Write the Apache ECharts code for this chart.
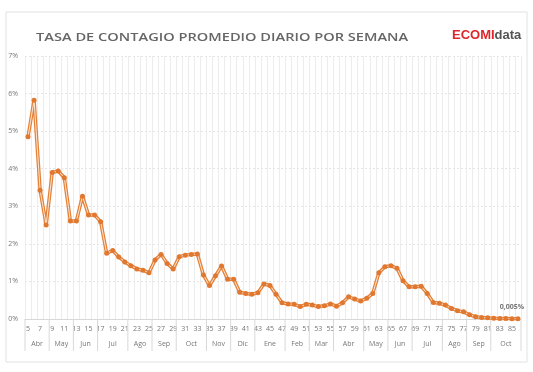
<!DOCTYPE html>
<html><head><meta charset="utf-8">
<script src="https://cdn.jsdelivr.net/npm/echarts@6/dist/echarts.min.js"></script>
<style>html,body{margin:0;padding:0;background:#fff}#c{width:533px;height:372px}</style>
</head><body><div id="c"></div>
<script>
// Semanas (categorías)
var weeks = ['5','6','7','8','9','10','11','12','13','14','15','16','17','18','19','20','21','22','23','24','25','26','27','28','29','30','31','32','33','34','35','36','37','38','39','40','41','42','43','44','45','46','47','48','49','50','51','52','53','54','55','56','57','58','59','60','61','62','63','64','65','66','67','68','69','70','71','72','73','74','75','76','77','78','79','80','81','82','83','84','85','86'];
// Tasa de contagio promedio diario (%)
var rates = [4.85,5.82,3.43,2.50,3.90,3.94,3.76,2.61,2.61,3.27,2.77,2.77,2.59,1.75,1.82,1.65,1.52,1.42,1.33,1.30,1.23,1.57,1.72,1.48,1.33,1.66,1.70,1.72,1.73,1.17,0.89,1.15,1.41,1.06,1.06,0.71,0.68,0.66,0.70,0.93,0.89,0.66,0.43,0.40,0.39,0.33,0.39,0.37,0.33,0.35,0.40,0.34,0.43,0.59,0.53,0.48,0.55,0.68,1.23,1.39,1.42,1.35,1.02,0.86,0.86,0.87,0.68,0.44,0.42,0.37,0.28,0.22,0.19,0.11,0.06,0.04,0.03,0.02,0.01,0.01,0.008,0.005];
// Meses y número de semanas de cada uno
var months = ['Abr','May','Jun','Jul','Ago','Sep','Oct','Nov','Dic','Ene','Feb','Mar','Abr','May','Jun','Jul','Ago','Sep','Oct'];
var monthWeeks = [4,4,4,5,4,4,5,4,4,5,4,4,5,4,4,5,4,4,5];
var yTicks = [0,1,2,3,4,5,6,7];

var bounds = [0], mids = [];
var acc = 0;
for (var i = 0; i < monthWeeks.length; i++) {
  mids.push([acc + monthWeeks[i] / 2, 0, months[i]]);
  acc += monthWeeks[i];
  bounds.push(acc);
}
var boundData = bounds.map(function (b) { return [b, 0]; });
var lastIdx = rates.length - 1;

var chart = echarts.init(document.getElementById('c'), null, {renderer: 'canvas'});
var font = 'Open Sans, Liberation Sans, sans-serif';
var orange = '#E5823A';
chart.setOption({
  animation: false,
  backgroundColor: '#fff',
  graphic: [
    {type: 'rect', shape: {x: 6, y: 12, width: 521, height: 350}, style: {fill: 'none', stroke: '#e2e2e2', lineWidth: 1}, z: -1},
    {type: 'text', x: 36, y: 32, scaleX: 1.27, style: {text: 'TASA DE CONTAGIO PROMEDIO DIARIO POR SEMANA', fill: '#666', font: '600 11.5px "Open Sans", sans-serif'}},
    {type: 'text', left: 452, top: 29, style: {rich: {
      a: {fill: '#e0262a', fontSize: 13, fontWeight: 'bold', fontFamily: 'Liberation Sans'},
      b: {fill: '#555', fontSize: 13, fontWeight: 'bold', fontFamily: 'Liberation Sans'}
    }, text: '{a|ECOM}{a|I}{b|data}'}}
  ],
  grid: {left: 25, right: 12, top: 56, bottom: 53, containLabel: false},
  xAxis: [{
    type: 'category', data: weeks, boundaryGap: true,
    axisLine: {show: true, lineStyle: {color: '#d8d8d8'}},
    axisTick: {show: false},
    axisLabel: {interval: 1, color: '#777', fontSize: 7, fontFamily: font, margin: 6},
    splitLine: {show: true, interval: 0, lineStyle: {color: '#ececec', width: 1}}
  }, {
    type: 'value', min: 0, max: weeks.length, show: false
  }],
  yAxis: {
    type: 'value', min: yTicks[0], max: yTicks[yTicks.length - 1], interval: 1,
    axisLine: {show: false}, axisTick: {show: false},
    axisLabel: {formatter: '{value}%', color: '#777', fontSize: 7, fontFamily: font, margin: 7},
    splitLine: {lineStyle: {color: '#e4e4e4', type: [2, 2]}}
  },
  series: [
    {type: 'line', data: rates, symbol: 'none', lineStyle: {color: orange, width: 3.5}, z: 2},
    {type: 'line', data: rates, symbol: 'none', lineStyle: {color: '#fbe6d4', width: 1}, z: 3},
    {type: 'line', data: rates.map(function (v, i) {
        return i === lastIdx ? {value: v, label: {show: true}} : v;
      }), symbol: 'circle', symbolSize: 5, showAllSymbol: true,
      itemStyle: {color: '#E07830'}, lineStyle: {opacity: 0}, z: 4,
      label: {show: false, position: 'top', offset: [-6, -1], color: '#777', fontSize: 7, fontWeight: 'bold', fontFamily: font,
        formatter: function (p) { return String(p.value).replace('.', ',') + '%'; }}
    },
    {type: 'custom', xAxisIndex: 1, yAxisIndex: 0, data: boundData, clip: false, silent: true,
      renderItem: function (params, api) {
        var p = api.coord([api.value(0), 0]);
        return {type: 'line', shape: {x1: p[0], y1: p[1], x2: p[0], y2: p[1] + 32}, style: {stroke: '#d8d8d8', lineWidth: 1}};
      }
    },
    {type: 'custom', xAxisIndex: 1, yAxisIndex: 0, data: mids, clip: false, silent: true,
      renderItem: function (params, api) {
        var p = api.coord([api.value(0), 0]);
        return {type: 'text', x: p[0], y: p[1] + 25, style: {text: months[params.dataIndex], fill: '#777', font: '7px "Open Sans", sans-serif', align: 'center', verticalAlign: 'middle'}};
      }
    }
  ]
});
</script></body></html>
